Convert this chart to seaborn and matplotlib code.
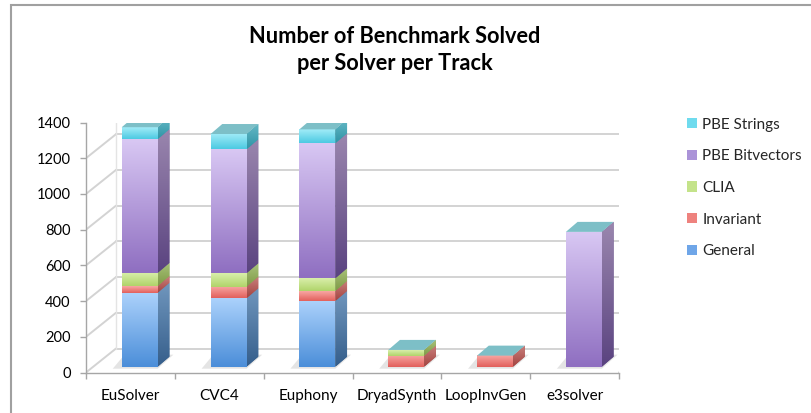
import numpy as np
import matplotlib
matplotlib.use("Agg")
import matplotlib.pyplot as plt
import seaborn as sns
from matplotlib.patches import Polygon, Rectangle, Patch
from matplotlib.lines import Line2D
from matplotlib.transforms import offset_copy, IdentityTransform

# ---------------- data ----------------
solvers = ["EuSolver", "CVC4", "Euphony", "DryadSynth", "LoopInvGen", "e3solver"]
tracks = ["General", "Invariant", "CLIA", "PBE Bitvectors", "PBE Strings"]
general = [414, 383, 368, 0, 0, 0]
invariant = [38, 65, 56, 62, 62, 0]
clia = [73, 75, 71, 32, 0, 0]
pbe_bitvectors = [749, 694, 756, 0, 0, 755]
pbe_strings = [67, 86, 78, 0, 0, 0]
y_ticks = [0, 200, 400, 600, 800, 1000, 1200, 1400]
title = "Number of Benchmark Solved\nper Solver per Track"

series = [general, invariant, clia, pbe_bitvectors, pbe_strings]

# colours: front top, front bottom, side top, side bottom
colors = {
    "General": ("#abd1fb", "#4b8ed9", "#7096bd", "#355e8b"),
    "Invariant": ("#f8a7a3", "#e2605c", "#c9807d", "#a34340"),
    "CLIA": ("#d9efab", "#b0d46a", "#a8c27a", "#7e9a45"),
    "PBE Bitvectors": ("#d8c7f3", "#8f6fc1", "#9a86ae", "#5a4380"),
    "PBE Strings": ("#a2ecf8", "#4ccae2", "#66b9c6", "#2f94a6"),
}
legend_colors = {"General": "#6fa6e8", "Invariant": "#ee827e", "CLIA": "#c4e38a",
                 "PBE Bitvectors": "#ab93d8", "PBE Strings": "#6fdbee"}
top_color = "#7dbfc7"

sns.set_theme(style="white")
plt.rcParams['font.family'] = ['Lato', 'DejaVu Sans']

W, H = 811, 413
fig = plt.figure(figsize=(W / 100, H / 100), dpi=100)
ax = fig.add_axes([86 / W, (H - 372.5) / H, 533 / W, 250 / H])

n = len(solvers)
bar_w = 0.405
front_dx, front_dy = 9.3, 5.8     # bar front plane offset (px)
bar_d = np.array([11.7, 10.0])    # bar depth vector (px)
wall_d = np.array([30.0, 24.0])   # chart depth vector (px)

# ---- stacked bars with seaborn: overlay cumulative totals, tallest first ----
cum = np.cumsum(np.array(series, dtype=float), axis=0)
bar_tr = offset_copy(ax.transData, fig=fig, x=front_dx, y=front_dy, units='dots')
for k in range(len(tracks) - 1, -1, -1):
    before = len(ax.patches)
    sns.barplot(x=solvers, y=cum[k], color=legend_colors[tracks[k]], saturation=1,
                width=bar_w, errorbar=None, ax=ax, zorder=3, linewidth=0)
    for p in ax.patches[before:]:
        p.set_transform(bar_tr)

ax.set_xlim(-0.5, n - 0.5)
ax.set_ylim(0, 1400)


def disp(x, y):
    return bar_tr.transform((x, y))


def grad(c_top, c_bot, n_px=64):
    a = np.array(matplotlib.colors.to_rgb(c_top))
    b = np.array(matplotlib.colors.to_rgb(c_bot))
    t = np.linspace(0, 1, n_px)[:, None]
    return (a * (1 - t) + b * t)[:, None, :]


# ---- back wall, left wall and floor ----
grid_c = "#d3d3d3"
for v in y_ticks:
    p = ax.transData.transform((-0.5, v))
    q = ax.transData.transform((n - 0.5, v))
    ax.add_line(Line2D([p[0], p[0] + wall_d[0]], [p[1], p[1] + wall_d[1]],
                       transform=IdentityTransform(), color=grid_c, lw=1.4, zorder=1))
    ax.add_line(Line2D([p[0] + wall_d[0], q[0] + wall_d[0]], [p[1] + wall_d[1], q[1] + wall_d[1]],
                       transform=IdentityTransform(), color=grid_c, lw=1.4, zorder=1))
q0 = ax.transData.transform((n - 0.5, 0))
ax.add_line(Line2D([q0[0], q0[0] + wall_d[0]], [q0[1], q0[1] + wall_d[1]],
                   transform=IdentityTransform(), color=grid_c, lw=1.4, zorder=1))
p0 = ax.transData.transform((-0.5, 0))
p1 = ax.transData.transform((-0.5, 1400))
ax.add_line(Line2D([p0[0] + wall_d[0], p1[0] + wall_d[0]], [p0[1] + wall_d[1], p1[1] + wall_d[1]],
                   transform=IdentityTransform(), color="#e4e4e4", lw=1.0, zorder=1))

# ---- 3D faces for each bar segment ----
for i in range(n):
    x0, x1 = i - bar_w / 2, i + bar_w / 2
    # floor shadow
    b0, b1 = disp(x0, 0), disp(x1, 0)
    sh = Polygon([b0 + [-9, -2], b1 + [0, -2], b1 + bar_d + [4, 2], b0 + bar_d + [-9, 2]],
                 closed=True, transform=IdentityTransform(), fc="#d9d9d9", ec="none",
                 alpha=0.7, zorder=2)
    ax.add_patch(sh)
    bottom = 0.0
    top_total = cum[-1][i]
    for k, tr in enumerate(tracks):
        h = series[k][i]
        if h <= 0:
            continue
        y0, y1 = bottom, bottom + h
        ft, fb, st, sb = colors[tr]
        # front gradient
        ax.imshow(grad(ft, fb), extent=[x0, x1, y0, y1], transform=bar_tr,
                  aspect='auto', zorder=3.1, interpolation='bilinear')
        # side face
        a, b = disp(x1, y0), disp(x1, y1)
        poly = Polygon([a, b, b + bar_d, a + bar_d], closed=True,
                       transform=IdentityTransform(), fc=sb, ec="none", zorder=3.0)
        ax.add_patch(poly)
        im = ax.imshow(grad(st, sb), extent=[a[0], a[0] + bar_d[0], a[1], b[1] + bar_d[1]],
                       transform=IdentityTransform(), aspect='auto', zorder=3.05,
                       interpolation='bilinear')
        im.set_clip_path(poly)
        bottom = y1
    # top face
    if top_total > 0:
        c, d = disp(x0, top_total), disp(x1, top_total)
        ax.add_patch(Polygon([c, d, d + bar_d, c + bar_d], closed=True,
                             transform=IdentityTransform(), fc=top_color,
                             ec="none", zorder=3.2))

ax.set_xlim(-0.5, n - 0.5)
ax.set_ylim(0, 1400)

# ---- axes styling ----
for s in ["top", "right"]:
    ax.spines[s].set_visible(False)
for s in ["left", "bottom"]:
    ax.spines[s].set_color("#a6a6a6")
    ax.spines[s].set_linewidth(1.0)
ax.set_yticks(y_ticks)
ax.set_yticklabels([str(v) for v in y_ticks])
ax.set_xticks(range(n))
ax.set_xticklabels(solvers)
ax.set_xticks(np.arange(-0.5, n, 1.0), minor=True)
ax.tick_params(axis='y', which='major', left=True, length=4, width=1, color="#a6a6a6",
               labelsize=10.5, pad=7, labelcolor="#000000")
ax.tick_params(axis='x', which='major', bottom=False, length=0, labelsize=11, pad=12,
               labelcolor="#000000")
ax.tick_params(axis='x', which='minor', bottom=True, length=4, width=1, color="#a6a6a6")
ax.set_xlabel("")
ax.set_ylabel("")
ax.patch.set_alpha(0)

# ---- title ----
fig.text(395 / W, 1 - 50 / H, title, ha='center', va='center', fontsize=15.7,
         fontweight='bold', linespacing=1.36, color="#000000")

# ---- legend ----
handles = [Patch(fc=legend_colors[t], ec="none") for t in reversed(tracks)]
ax.legend(handles, list(reversed(tracks)), loc='upper left',
          bbox_to_anchor=(687 / W, 1 - 117.5 / H), bbox_transform=fig.transFigure,
          frameon=False, fontsize=11, handlelength=0.65, handleheight=0.65,
          handletextpad=0.35, labelspacing=1.16, borderpad=0, borderaxespad=0)

# ---- chart border ----
fig.patches.append(Rectangle((11 / W, -0.1), 1.2, 1 - 5 / H + 0.1, transform=fig.transFigure,
                             fill=False, ec="#a0a0a0", lw=1.5, zorder=10))

fig.savefig("out.png", dpi=100)
